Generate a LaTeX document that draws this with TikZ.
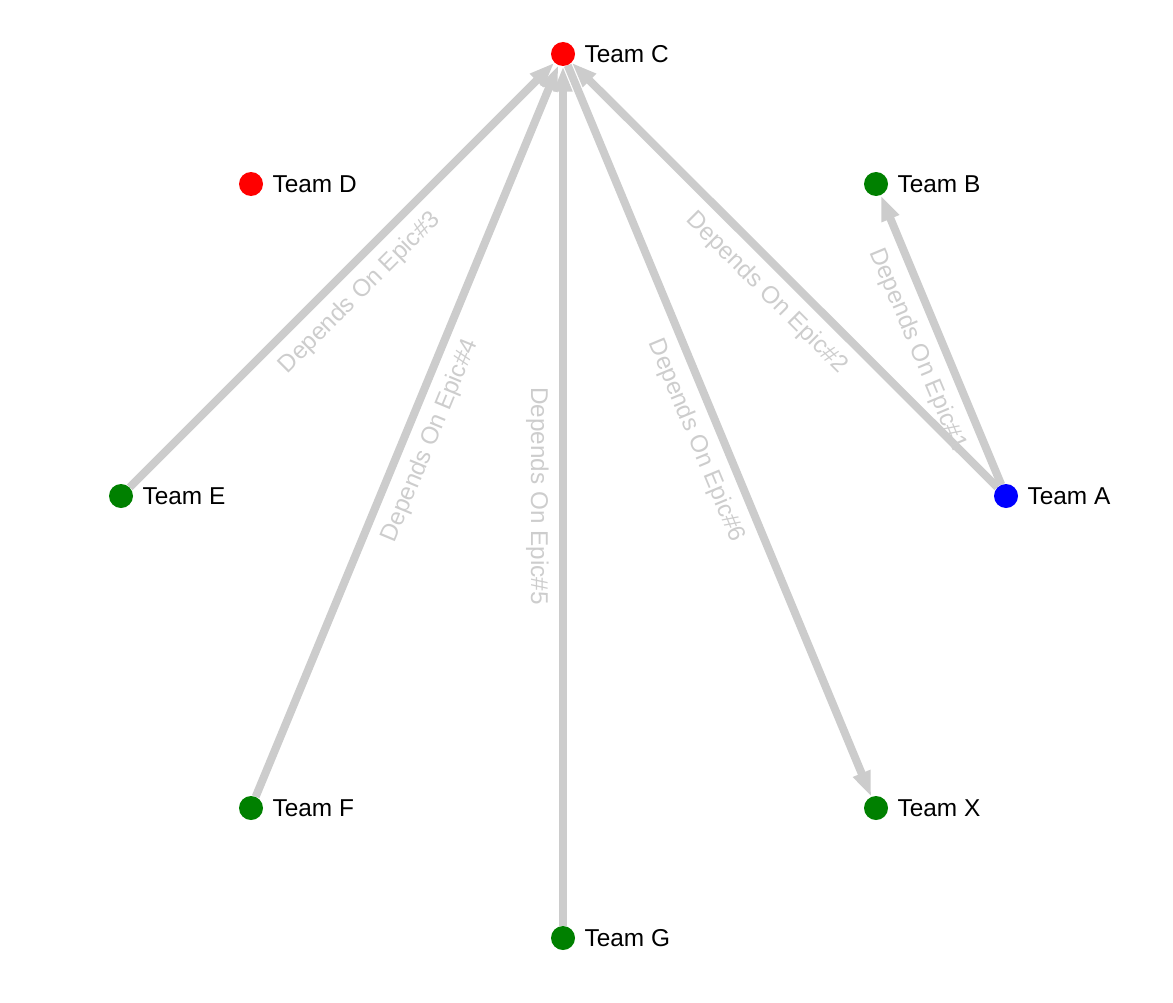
\documentclass[tikz,border=0pt]{standalone}
\usepackage{fontspec}
\setmainfont{Liberation Sans}
\usepackage{tikz}
\usetikzlibrary{arrows.meta,backgrounds}
\definecolor{redCol}{HTML}{FF0000}
\definecolor{greenCol}{HTML}{008000}
\definecolor{blueCol}{HTML}{0000FF}
\definecolor{edgeCol}{HTML}{CCCCCC}
\definecolor{lblCol}{HTML}{CDCDCD}
\newcommand{\teamfont}{\fontsize{18.3}{21}\selectfont}
\newcommand{\lblfont}{\fontsize{18.2}{21}\selectfont}
\tikzset{
  team/.style={circle, fill=#1, draw=none, minimum size=18pt, inner sep=0pt},
  every label/.style={font=\teamfont, inner sep=0pt, text=black, xshift=6.8pt},
  dep/.style={-{Triangle[length=19pt,width=13pt]}, draw=edgeCol, line width=6pt}, % dependency
  deplbl/.style={midway, sloped, below=10.5pt, inner sep=0pt, text=lblCol, font=\lblfont},
}
\begin{document}
\begin{tikzpicture}[x=0.75pt, y=-0.75pt]
  \useasboundingbox (0,0) rectangle (1173,1002);
  % teams
  \node[team=redCol,   label=right:Team C] (tc) at (563,54) {};
  \node[team=redCol,   label=right:Team D] (td) at (251,184) {};
  \node[team=greenCol, label=right:Team B] (tb) at (876,184) {};
  \node[team=greenCol, label=right:Team E] (te) at (121,496) {};
  \node[team=blueCol,  label=right:Team A] (ta) at (1006,496) {};
  \node[team=greenCol, label=right:Team F] (tf) at (251,808) {};
  \node[team=greenCol, label=right:Team X] (tx) at (876,808) {};
  \node[team=greenCol, label=right:Team G] (tg) at (563,938) {};

  % dependencies
  \begin{scope}[on background layer]
    \draw[dep] (ta) -- (tb);
    \draw[dep] (ta) -- (tc);
    \draw[dep] (te) -- (tc);
    \draw[dep] (tf) -- (tc);
    \draw[dep] (tg) -- (tc);
    \draw[dep] (tc) -- (tx);
  \end{scope}
  % labels centred on the full edge, not the shortened one
  \path (ta) -- node[deplbl] {Depends On Epic\#1} (tb);
  \path (ta) -- node[deplbl] {Depends On Epic\#2} (tc);
  \path (te) -- node[deplbl] {Depends On Epic\#3} (tc);
  \path (tf) -- node[deplbl] {Depends On Epic\#4} (tc);
  \path (tc) -- node[deplbl] {Depends On Epic\#5} (tg);
  \path (tc) -- node[deplbl] {Depends On Epic\#6} (tx);
\end{tikzpicture}
\end{document}
